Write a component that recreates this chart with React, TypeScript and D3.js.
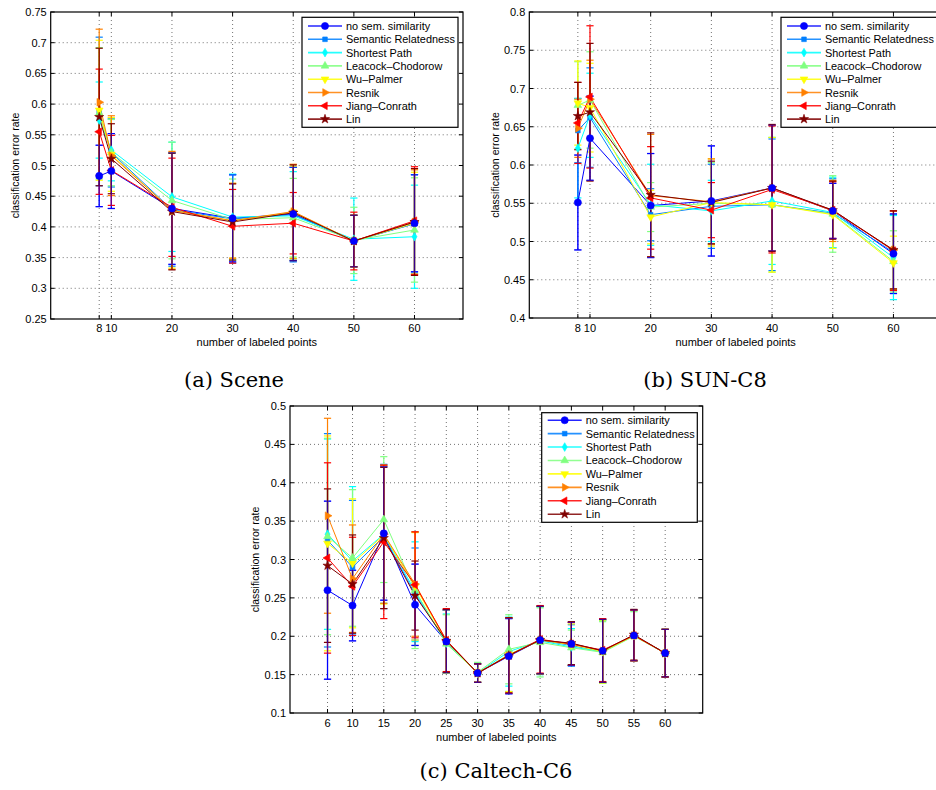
import React from 'react';
import * as d3 from 'd3';

const SERIES = [
  'no sem. similarity',
  'Semantic Relatedness',
  'Shortest Path',
  'Leacock\u2013Chodorow',
  'Wu\u2013Palmer',
  'Resnik',
  'Jiang\u2013Conrath',
  'Lin',
];
const COLORS = ['#0000ff', '#0080ff', '#00ffff', '#80ff80', '#ffff00', '#ff8000', '#ff0000', '#800000'];
const MARKERS = ['circle', 'square', 'diamond', 'triUp', 'triDown', 'triRight', 'triLeft', 'star'];

// ---- (a) Scene ----
const sceneX = [8, 10, 20, 30, 40, 50, 60];
const sceneTicksY = [0.25, 0.3, 0.35, 0.4, 0.45, 0.5, 0.55, 0.6, 0.65, 0.7, 0.75];
const sceneMean = [
  [0.483, 0.491, 0.430, 0.414, 0.421, 0.377, 0.406],
  [0.588, 0.521, 0.428, 0.413, 0.420, 0.377, 0.405],
  [0.574, 0.525, 0.449, 0.416, 0.418, 0.380, 0.384],
  [0.585, 0.521, 0.443, 0.412, 0.415, 0.378, 0.395],
  [0.590, 0.518, 0.427, 0.410, 0.424, 0.377, 0.406],
  [0.603, 0.516, 0.427, 0.410, 0.425, 0.377, 0.408],
  [0.555, 0.492, 0.432, 0.401, 0.406, 0.377, 0.410],
  [0.579, 0.511, 0.425, 0.408, 0.423, 0.377, 0.408],
];
const sceneStd = [
  [0.050, 0.061, 0.091, 0.071, 0.076, 0.042, 0.079],
  [0.121, 0.056, 0.092, 0.072, 0.077, 0.042, 0.080],
  [0.062, 0.050, 0.089, 0.070, 0.072, 0.067, 0.084],
  [0.107, 0.054, 0.095, 0.066, 0.064, 0.054, 0.085],
  [0.114, 0.060, 0.094, 0.061, 0.075, 0.042, 0.083],
  [0.119, 0.065, 0.096, 0.061, 0.077, 0.042, 0.085],
  [0.102, 0.057, 0.080, 0.060, 0.050, 0.047, 0.088],
  [0.112, 0.057, 0.095, 0.062, 0.078, 0.042, 0.087],
];

// ---- (b) SUN-C8 ----
const sunX = [8, 10, 20, 30, 40, 50, 60];
const sunTicksY = [0.4, 0.45, 0.5, 0.55, 0.6, 0.65, 0.7, 0.75, 0.8];
const sunMean = [
  [0.551, 0.635, 0.547, 0.553, 0.570, 0.540, 0.484],
  [0.645, 0.662, 0.535, 0.546, 0.548, 0.537, 0.486],
  [0.622, 0.665, 0.548, 0.540, 0.553, 0.538, 0.479],
  [0.678, 0.685, 0.545, 0.550, 0.548, 0.536, 0.474],
  [0.681, 0.675, 0.532, 0.551, 0.548, 0.535, 0.472],
  [0.648, 0.686, 0.560, 0.552, 0.570, 0.540, 0.489],
  [0.655, 0.689, 0.557, 0.541, 0.568, 0.541, 0.488],
  [0.664, 0.669, 0.561, 0.551, 0.570, 0.541, 0.489],
];
const sunStd = [
  [0.062, 0.055, 0.068, 0.072, 0.082, 0.036, 0.052],
  [0.042, 0.065, 0.034, 0.055, 0.086, 0.045, 0.049],
  [0.065, 0.055, 0.053, 0.040, 0.083, 0.046, 0.055],
  [0.057, 0.063, 0.032, 0.053, 0.088, 0.050, 0.040],
  [0.055, 0.058, 0.035, 0.057, 0.088, 0.044, 0.035],
  [0.038, 0.051, 0.080, 0.056, 0.082, 0.040, 0.051],
  [0.053, 0.093, 0.067, 0.036, 0.083, 0.037, 0.052],
  [0.044, 0.090, 0.081, 0.054, 0.083, 0.038, 0.051],
];

// ---- (c) Caltech-C6 ----
const calX = [6, 10, 15, 20, 25, 30, 35, 40, 45, 50, 55, 60];
const calTicksY = [0.1, 0.15, 0.2, 0.25, 0.3, 0.35, 0.4, 0.45, 0.5];
const calMean = [
  [0.260, 0.240, 0.334, 0.241, 0.193, 0.152, 0.174, 0.195, 0.190, 0.181, 0.201, 0.178],
  [0.325, 0.290, 0.330, 0.255, 0.193, 0.152, 0.176, 0.195, 0.188, 0.180, 0.201, 0.178],
  [0.333, 0.298, 0.333, 0.258, 0.191, 0.152, 0.180, 0.194, 0.186, 0.180, 0.201, 0.178],
  [0.330, 0.302, 0.352, 0.260, 0.190, 0.153, 0.183, 0.192, 0.185, 0.179, 0.200, 0.178],
  [0.321, 0.295, 0.332, 0.265, 0.193, 0.152, 0.176, 0.195, 0.189, 0.180, 0.201, 0.178],
  [0.357, 0.275, 0.333, 0.268, 0.194, 0.152, 0.175, 0.195, 0.190, 0.181, 0.201, 0.178],
  [0.302, 0.265, 0.323, 0.267, 0.195, 0.152, 0.175, 0.196, 0.190, 0.182, 0.201, 0.178],
  [0.292, 0.268, 0.328, 0.253, 0.194, 0.152, 0.175, 0.195, 0.191, 0.181, 0.202, 0.178],
];
const calStd = [
  [0.116, 0.046, 0.087, 0.053, 0.041, 0.012, 0.049, 0.044, 0.028, 0.041, 0.033, 0.031],
  [0.139, 0.087, 0.094, 0.060, 0.041, 0.012, 0.048, 0.044, 0.027, 0.041, 0.033, 0.031],
  [0.124, 0.097, 0.090, 0.065, 0.038, 0.012, 0.045, 0.044, 0.024, 0.041, 0.033, 0.031],
  [0.128, 0.089, 0.082, 0.076, 0.038, 0.013, 0.045, 0.045, 0.023, 0.040, 0.032, 0.031],
  [0.140, 0.084, 0.090, 0.070, 0.041, 0.012, 0.048, 0.044, 0.027, 0.041, 0.033, 0.031],
  [0.127, 0.070, 0.090, 0.068, 0.041, 0.012, 0.049, 0.044, 0.028, 0.041, 0.033, 0.031],
  [0.124, 0.064, 0.100, 0.069, 0.041, 0.012, 0.049, 0.044, 0.028, 0.041, 0.033, 0.031],
  [0.100, 0.064, 0.092, 0.045, 0.041, 0.012, 0.049, 0.044, 0.028, 0.041, 0.033, 0.031],
];

const SANS = '"Liberation Sans", Arial, Helvetica, sans-serif';
const SERIF = '"DejaVu Serif", "Liberation Serif", serif';

function Marker({ kind, x, y, color }: { kind: string; x: number; y: number; color: string }) {
  let type: any = d3.symbolCircle;
  let size = 30;
  let rot = 0;
  switch (kind) {
    case 'circle': type = d3.symbolCircle; size = 40; break;
    case 'square': type = d3.symbolSquare; size = 22; break;
    case 'diamond': type = d3.symbolDiamond; size = 22; break;
    case 'triUp': type = d3.symbolTriangle; size = 26; break;
    case 'triDown': type = d3.symbolTriangle; size = 26; rot = 180; break;
    case 'triRight': type = d3.symbolTriangle; size = 26; rot = 90; break;
    case 'triLeft': type = d3.symbolTriangle; size = 26; rot = -90; break;
    case 'star': type = d3.symbolStar; size = 26; break;
  }
  const d = d3.symbol().type(type).size(size)() as string;
  return <path d={d} transform={`translate(${x},${y}) rotate(${rot})`} fill={color} stroke={color} strokeWidth={0.6} />;
}

type PanelProps = {
  left: number; top: number; width: number; height: number;
  xDomain: [number, number]; yDomain: [number, number];
  xs: number[]; yTicks: number[];
  means: number[][]; stds: number[][];
  legend: { x: number; y: number; w: number; h: number; gap: number; step: number };
  caption: { text: string; x: number; y: number };
  xLabelY: number; xTickY: number; yLabelX: number;
};

function Panel(p: PanelProps) {
  const x = d3.scaleLinear().domain(p.xDomain).range([p.left, p.left + p.width]);
  const y = d3.scaleLinear().domain(p.yDomain).range([p.top + p.height, p.top]);
  const line = d3.line<[number, number]>().x((d) => x(d[0])).y((d) => y(d[1]));
  const right = p.left + p.width;
  const bottom = p.top + p.height;
  const fmt = (v: number) => String(Number(v.toFixed(2)));
  const cap = 3.6;
  const tickLen = 4;

  const errorBars = (si: number, opacity: number, keyPrefix: string) =>
    p.xs.map((xv, i) => {
      const m = p.means[si][i];
      const s = p.stds[si][i];
      const cx = x(xv);
      const y1 = y(m + s);
      const y2 = y(m - s);
      return (
        <g key={`${keyPrefix}${si}-${i}`} stroke={COLORS[si]} strokeWidth={1.2} opacity={opacity}>
          <line x1={cx} x2={cx} y1={y1} y2={y2} />
          <line x1={cx - cap} x2={cx + cap} y1={y1} y2={y1} />
          <line x1={cx - cap} x2={cx + cap} y1={y2} y2={y2} />
        </g>
      );
    });

  const order = [1, 2, 3, 4, 5, 6, 7, 0];

  return (
    <g>
      {/* grid */}
      <g stroke="#444" strokeWidth={1} strokeDasharray="1 3" opacity={0.75}>
        {p.xs.map((xv) => (
          <line key={`gx${xv}`} x1={x(xv)} x2={x(xv)} y1={p.top} y2={bottom} />
        ))}
        {p.yTicks.slice(1, -1).map((yv) => (
          <line key={`gy${yv}`} x1={p.left} x2={right} y1={y(yv)} y2={y(yv)} />
        ))}
      </g>
      {/* error bars */}
      {SERIES.map((_, si) => errorBars(si, 1, 'e'))}
      {errorBars(0, 0.55, 'eo')}
      {/* lines */}
      {SERIES.map((_, si) => (
        <path
          key={`l${si}`}
          d={line(p.xs.map((xv, i) => [xv, p.means[si][i]]) as [number, number][]) as string}
          fill="none"
          stroke={COLORS[si]}
          strokeWidth={1}
        />
      ))}
      {/* markers */}
      {order.map((si) =>
        p.xs.map((xv, i) => (
          <Marker key={`m${si}-${i}`} kind={MARKERS[si]} x={x(xv)} y={y(p.means[si][i])} color={COLORS[si]} />
        ))
      )}
      {/* box and ticks */}
      <rect x={p.left} y={p.top} width={p.width} height={p.height} fill="none" stroke="#000" strokeWidth={1.2} />
      <g stroke="#000" strokeWidth={1}>
        {p.xs.map((xv) => (
          <g key={`tx${xv}`}>
            <line x1={x(xv)} x2={x(xv)} y1={bottom} y2={bottom - tickLen} />
            <line x1={x(xv)} x2={x(xv)} y1={p.top} y2={p.top + tickLen} />
          </g>
        ))}
        {p.yTicks.map((yv) => (
          <g key={`ty${yv}`}>
            <line x1={p.left} x2={p.left + tickLen} y1={y(yv)} y2={y(yv)} />
            <line x1={right} x2={right - tickLen} y1={y(yv)} y2={y(yv)} />
          </g>
        ))}
      </g>
      {/* tick labels */}
      <g fontFamily={SANS} fontSize={11} fill="#000">
        {p.xs.map((xv) => (
          <text key={`lx${xv}`} x={x(xv)} y={p.xTickY} textAnchor="middle">{xv}</text>
        ))}
        {p.yTicks.map((yv) => (
          <text key={`ly${yv}`} x={p.left - 4} y={y(yv) + 4} textAnchor="end">{fmt(yv)}</text>
        ))}
        <text x={(p.left + right) / 2} y={p.xLabelY} textAnchor="middle">number of labeled points</text>
        <text
          transform={`translate(${p.yLabelX},${(p.top + bottom) / 2}) rotate(-90)`}
          textAnchor="middle"
          dy="0.35em"
          fontSize={10.5}
        >
          classification error rate
        </text>
      </g>
      {/* legend */}
      <g>
        <rect x={p.legend.x} y={p.legend.y} width={p.legend.w} height={p.legend.h} fill="#fff" stroke="#000" strokeWidth={1.2} />
        {SERIES.map((name, si) => {
          const ry = p.legend.y + p.legend.gap + si * p.legend.step;
          return (
            <g key={`lg${si}`}>
              <line x1={p.legend.x + 6} x2={p.legend.x + 40} y1={ry} y2={ry} stroke={COLORS[si]} strokeWidth={1.6} opacity={0.85} />
              <Marker kind={MARKERS[si]} x={p.legend.x + 23} y={ry} color={COLORS[si]} />
              <text x={p.legend.x + 44} y={ry + 4} fontFamily={SANS} fontSize={10.9} fill="#000">{name}</text>
            </g>
          );
        })}
      </g>
      {/* caption */}
      <text x={p.caption.x} y={p.caption.y} textAnchor="middle" fontFamily={SERIF} fontSize={21} fill="#000">
        {p.caption.text}
      </text>
    </g>
  );
}

export default function App() {
  return (
    <svg
      width={936}
      height={790}
      viewBox="0 0 936 790"
      style={{ position: 'absolute', left: 0, top: 0, background: '#fff' }}
    >
      <rect x={0} y={0} width={936} height={790} fill="#fff" />
      <Panel
        left={50.7} top={12} width={412.3} height={307}
        xDomain={[0, 68]} yDomain={[0.25, 0.75]}
        xs={sceneX} yTicks={sceneTicksY}
        means={sceneMean} stds={sceneStd}
        legend={{ x: 302, y: 17.3, w: 156, h: 110, gap: 8.7, step: 13.3 }}
        caption={{ text: '(a) Scene', x: 234, y: 387 }}
        xTickY={332} xLabelY={345.5} yLabelX={15}
      />
      <Panel
        left={529.3} top={12} width={412.7} height={306}
        xDomain={[0, 68]} yDomain={[0.4, 0.8]}
        xs={sunX} yTicks={sunTicksY}
        means={sunMean} stds={sunStd}
        legend={{ x: 781, y: 17.3, w: 160, h: 110, gap: 8.7, step: 13.3 }}
        caption={{ text: '(b) SUN-C8', x: 705, y: 387 }}
        xTickY={332} xLabelY={345.5} yLabelX={495}
      />
      <Panel
        left={290} top={406} width={412.7} height={307}
        xDomain={[0, 66]} yDomain={[0.1, 0.5]}
        xs={calX} yTicks={calTicksY}
        means={calMean} stds={calStd}
        legend={{ x: 541.7, y: 412.7, w: 155.6, h: 109.6, gap: 7.5, step: 13.43 }}
        caption={{ text: '(c) Caltech-C6', x: 496, y: 778 }}
        xTickY={727} xLabelY={740.5} yLabelX={255}
      />
    </svg>
  );
}
